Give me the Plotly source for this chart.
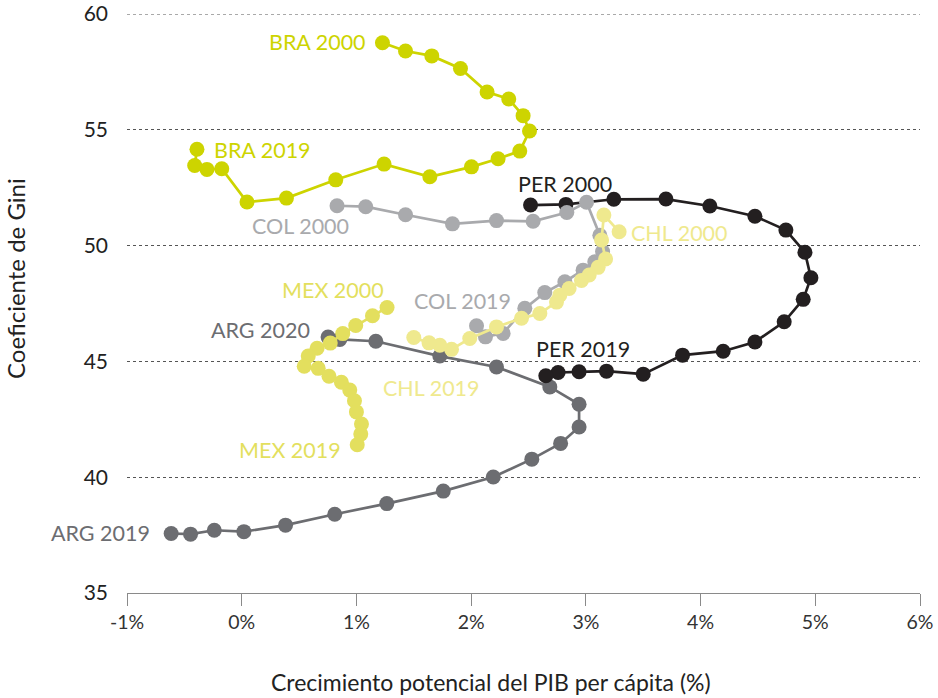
import plotly.graph_objects as go

# ---- data (x: potential GDP per capita growth %, y: Gini) ----
bra_x = [1.227, 1.428, 1.657, 1.907, 2.139, 2.328, 2.453, 2.509, 2.424, 2.235,
         2.003, 1.640, 1.241, 0.820, 0.390, 0.046, -0.174, -0.303, -0.410, -0.390]
bra_y = [58.76, 58.40, 58.19, 57.65, 56.63, 56.33, 55.61, 54.95, 54.08, 53.75,
         53.40, 52.97, 53.52, 52.84, 52.05, 51.88, 53.32, 53.29, 53.46, 54.16]

col_x = [0.831, 1.081, 1.428, 1.837, 2.221, 2.540, 2.834, 3.006, 3.122, 3.146,
         3.078, 2.976, 2.817, 2.642, 2.468, 2.279, 2.125, 2.047]
col_y = [51.72, 51.68, 51.33, 50.94, 51.08, 51.05, 51.43, 51.87, 50.45, 49.74,
         49.30, 48.94, 48.44, 47.97, 47.29, 46.21, 46.06, 46.54]

chl_x = [3.290, 3.157, 3.137, 3.172, 3.107, 3.029, 2.962, 2.854, 2.773, 2.744,
         2.599, 2.439, 2.221, 1.988, 1.829, 1.727, 1.633, 1.500]
chl_y = [50.60, 51.32, 50.24, 49.42, 49.06, 48.73, 48.49, 48.15, 47.86, 47.56,
         47.07, 46.86, 46.49, 45.99, 45.52, 45.70, 45.80, 46.03]

mex_x = [1.267, 1.140, 0.994, 0.881, 0.772, 0.657, 0.580, 0.545, 0.667, 0.761,
         0.869, 0.942, 0.983, 1.000, 1.044, 1.038, 1.007]
mex_y = [47.33, 46.97, 46.55, 46.20, 45.79, 45.57, 45.23, 44.79, 44.70, 44.36,
         44.10, 43.76, 43.30, 42.82, 42.30, 41.86, 41.40]

arg_x = [0.753, 0.855, 1.169, 1.727, 2.221, 2.686, 2.941, 2.941, 2.780, 2.529,
         2.193, 1.757, 1.265, 0.811, 0.382, 0.019, -0.239, -0.446, -0.615]
arg_y = [46.05, 45.95, 45.87, 45.23, 44.76, 43.90, 43.15, 42.17, 41.46, 40.78,
         40.01, 39.40, 38.86, 38.40, 37.93, 37.65, 37.71, 37.54, 37.57]

per_x = [2.518, 2.826, 3.244, 3.698, 4.081, 4.474, 4.744, 4.910, 4.962, 4.895,
         4.729, 4.474, 4.197, 3.843, 3.500, 3.180, 2.941, 2.758, 2.651]
per_y = [51.75, 51.78, 52.00, 52.01, 51.71, 51.27, 50.67, 49.71, 48.61, 47.68,
         46.71, 45.84, 45.44, 45.27, 44.45, 44.58, 44.55, 44.52, 44.38]

x_tickvals = [-1, 0, 1, 2, 3, 4, 5, 5.913]
x_ticktext = ["-1%", "0%", "1%", "2%", "3%", "4%", "5%", "6%"]
y_tickvals = [35, 40, 45, 50, 55, 60]
x_range = [-1, 5.913]
y_range = [35, 60]

labels = [  # text, x, y, series
    ("BRA 2000", 0.658, 58.79, "BRA"),
    ("BRA 2019", 0.179, 54.13, "BRA"),
    ("COL 2000", 0.510, 50.84, "COL"),
    ("PER 2000", 2.821, 52.66, "PER"),
    ("CHL 2000", 3.815, 50.54, "CHL"),
    ("MEX 2000", 0.794, 48.08, "MEX"),
    ("COL 2019", 1.923, 47.60, "COL"),
    ("ARG 2020", 0.166, 46.35, "ARG"),
    ("PER 2019", 2.978, 45.53, "PER"),
    ("CHL 2019", 1.653, 43.84, "CHL"),
    ("MEX 2019", 0.423, 41.17, "MEX"),
    ("ARG 2019", -1.230, 37.58, "ARG"),
]

colors = {
    "BRA": "#CDD400",
    "MEX": "#E3DF5E",
    "CHL": "#EFE98E",
    "COL": "#A9AAAD",
    "ARG": "#6C6D71",
    "PER": "#231F20",
}

series = [
    ("ARG", arg_x, arg_y),
    ("PER", per_x, per_y),
    ("COL", col_x, col_y),
    ("BRA", bra_x, bra_y),
    ("CHL", chl_x, chl_y),
    ("MEX", mex_x, mex_y),
]

W, H = 938, 698
ML, MR, MT, MB = 127, 18, 14, 105
PW, PH = W - ML - MR, H - MT - MB

fig = go.Figure()
for name, xs, ys in series:
    fig.add_trace(go.Scatter(
        x=xs, y=ys, mode="lines+markers", name=name,
        line=dict(color=colors[name], width=2.7),
        marker=dict(color=colors[name], size=15, line=dict(width=0)),
        cliponaxis=False, showlegend=False,
    ))

# labels placed in paper coordinates (computed from data values) so that
# labels outside the axis range are still shown
for text, lx, ly, s in labels:
    px = (lx - x_range[0]) / (x_range[1] - x_range[0])
    py = (ly - y_range[0]) / (y_range[1] - y_range[0])
    fig.add_annotation(x=px, y=py, xref="paper", yref="paper", text=text, showarrow=False,
                       xanchor="center", yanchor="middle",
                       font=dict(family="Lato", size=21.5, color=colors[s]))

# top gridline (at the upper range edge)
fig.add_shape(type="line", xref="paper", yref="y", x0=0, x1=1, y0=y_range[1], y1=y_range[1],
              line=dict(color="#555555", width=1, dash="dot"), layer="below")

fig.update_layout(
    width=W, height=H, autosize=False,
    margin=dict(l=ML, r=MR, t=MT, b=MB, pad=0),
    paper_bgcolor="white", plot_bgcolor="white",
    font=dict(family="Lato", size=17, color="#333333"),
    xaxis=dict(
        range=x_range, tickvals=x_tickvals, ticktext=x_ticktext, automargin=False,
        showgrid=False, zeroline=False, showline=True, linecolor="#8a8a8a", linewidth=1,
        ticks="outside", ticklen=12, tickcolor="#8a8a8a", tickwidth=1,
        tickfont=dict(family="Lato", size=19.5, color="#333333"),
    ),
    yaxis=dict(
        range=y_range, tickvals=y_tickvals, automargin=False,
        showgrid=True, gridcolor="#555555", griddash="dot", gridwidth=1,
        zeroline=False, showline=False, ticks="", ticklabelstandoff=18,
        tickfont=dict(family="Lato", size=21, color="#222222"),
    ),
)

fig.add_annotation(
    xref="paper", yref="paper", x=(491 - ML) / PW, y=-(682 - (H - MB)) / PH,
    text="Crecimiento potencial del PIB per cápita (%)", showarrow=False,
    xanchor="center", yanchor="middle", font=dict(family="Lato", size=23, color="#222222"))
fig.add_annotation(
    xref="paper", yref="paper", x=-(ML - 15) / PW, y=((H - MB) - 278) / PH,
    text="Coeficiente de Gini", showarrow=False, textangle=-90,
    xanchor="center", yanchor="middle", font=dict(family="Lato", size=24, color="#222222"))

fig.write_html("out.html", config={"responsive": False, "displayModeBar": False},
               post_script="document.body.style.margin='0';document.body.style.overflow='hidden';")
